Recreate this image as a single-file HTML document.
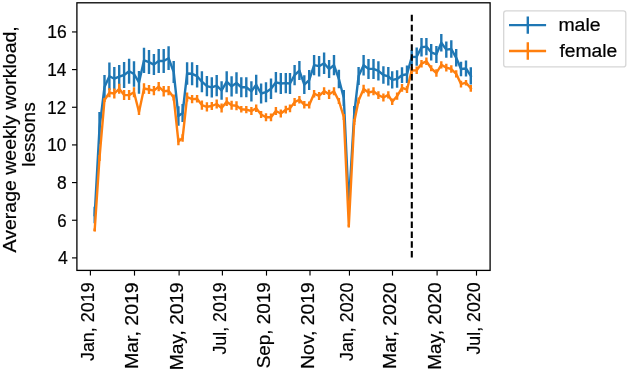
<!DOCTYPE html>
<html><head><meta charset="utf-8"><style>html,body{margin:0;padding:0;background:#fff;}svg{display:block;will-change:transform;}</style></head>
<body>
<svg width="628" height="372" viewBox="0 0 628 372">
<rect x="0" y="0" width="628" height="372" fill="#fff"/>
<path d="M94.70,206.80V223.20M99.50,112.00V144.00M104.50,75.00V99.00M109.40,62.50V89.90M114.30,67.00V90.40M119.20,65.00V88.40M124.10,62.10V87.90M129.10,58.80V83.80M134.00,61.30V86.70M139.00,71.10V93.70M144.00,47.70V72.90M149.00,50.10V74.10M153.90,54.10V75.10M158.70,48.90V72.90M163.70,49.00V73.00M168.60,46.30V70.10M173.70,61.00V83.00M178.40,106.20V125.80M182.60,104.00V122.00M187.10,62.30V84.70M192.10,62.30V85.30M197.10,65.00V87.40M201.90,71.20V92.20M206.90,76.00V96.20M211.80,77.20V97.40M216.70,75.00V96.20M221.60,81.20V99.80M226.70,71.20V92.20M231.60,76.20V96.40M236.50,72.30V93.70M241.30,77.25V97.25M246.30,77.25V97.25M251.40,81.20V101.40M256.20,74.70V94.90M261.10,83.40V103.60M266.00,82.20V102.20M271.00,78.50V98.90M275.90,72.10V92.50M280.80,72.90V94.10M285.80,72.90V93.30M290.00,72.90V94.10M294.60,65.10V85.30M299.40,61.10V80.10M304.30,75.30V94.10M309.20,70.10V90.10M314.10,54.90V75.30M319.10,56.00V76.40M324.10,52.50V73.90M329.10,60.00V78.00M334.00,55.10V75.30M338.90,69.80V88.20M343.80,90.00V106.00M348.80,199.00V211.00M354.20,106.00V122.00M358.60,67.00V85.00M363.60,55.00V75.40M368.50,58.90V78.90M373.50,58.90V78.90M378.40,61.20V80.60M383.40,66.20V83.80M388.30,67.10V85.50M392.20,71.20V88.60M397.10,70.20V87.80M402.00,67.30V83.10M407.00,65.40V83.00M411.70,50.00V64.00M416.70,47.60V65.80M421.50,37.90V56.50M426.40,37.90V55.30M431.20,44.10V60.50M436.40,45.90V62.90M441.30,34.00V51.40M446.30,41.40V57.80M451.30,40.20V57.80M456.20,49.00V66.60M461.00,61.70V76.30M466.00,60.50V76.50M470.80,67.20V84.60" stroke="#1f77b4" stroke-width="2.4" fill="none"/>
<path d="M94.70,215.00L99.50,128.00L104.50,87.00L109.40,76.20L114.30,78.70L119.20,76.70L124.10,75.00L129.10,71.30L134.00,74.00L139.00,82.40L144.00,60.30L149.00,62.10L153.90,64.60L158.70,60.90L163.70,61.00L168.60,58.20L173.70,72.00L178.40,116.00L182.60,113.00L187.10,73.50L192.10,73.80L197.10,76.20L201.90,81.70L206.90,86.10L211.80,87.30L216.70,85.60L221.60,90.50L226.70,81.70L231.60,86.30L236.50,83.00L241.30,87.25L246.30,87.25L251.40,91.30L256.20,84.80L261.10,93.50L266.00,92.20L271.00,88.70L275.90,82.30L280.80,83.50L285.80,83.10L290.00,83.50L294.60,75.20L299.40,70.60L304.30,84.70L309.20,80.10L314.10,65.10L319.10,66.20L324.10,63.20L329.10,69.00L334.00,65.20L338.90,79.00L343.80,98.00L348.80,205.00L354.20,114.00L358.60,76.00L363.60,65.20L368.50,68.90L373.50,68.90L378.40,70.90L383.40,75.00L388.30,76.30L392.20,79.90L397.10,79.00L402.00,75.20L407.00,74.20L411.70,57.00L416.70,56.70L421.50,47.20L426.40,46.60L431.20,52.30L436.40,54.40L441.30,42.70L446.30,49.60L451.30,49.00L456.20,57.80L461.00,69.00L466.00,68.50L470.80,75.90" stroke="#1f77b4" stroke-width="2.4" fill="none" stroke-linejoin="round" stroke-linecap="square"/>
<path d="M94.70,228.50V231.50M99.50,155.00V161.00M104.50,98.00V102.00M109.40,88.30V97.30M114.30,88.50V98.50M119.20,83.80V93.80M124.10,90.10V100.10M129.10,90.10V100.10M134.00,87.30V97.30M139.00,109.00V115.00M144.00,83.30V93.70M149.00,84.90V94.10M153.90,86.10V95.30M158.70,82.10V91.30M163.70,86.10V96.50M168.60,86.10V95.30M173.70,94.40V100.40M178.40,137.70V145.30M182.60,134.30V141.70M187.10,92.40V101.60M192.10,94.90V103.30M197.10,94.90V102.50M201.90,100.50V109.70M206.90,102.20V111.40M211.80,102.10V109.90M216.70,99.40V108.60M221.60,103.40V112.60M226.70,97.30V106.10M231.60,100.80V109.80M236.50,101.20V110.20M241.30,106.10V112.50M246.30,106.10V113.30M251.40,107.00V115.00M256.20,104.50V112.10M261.10,110.90V118.10M266.00,113.30V121.30M271.00,113.40V121.20M275.90,107.10V114.90M280.80,109.60V117.40M285.80,105.80V113.60M290.00,104.50V112.30M294.60,98.10V106.10M299.40,96.00V103.40M304.30,101.00V108.60M309.20,101.40V108.60M314.10,89.90V97.50M319.10,92.10V99.90M324.10,87.30V94.90M329.10,89.70V98.90M334.00,87.30V95.30M338.90,98.00V104.00M343.80,114.00V120.00M348.80,224.50V227.50M354.20,119.00V125.00M358.60,97.50V103.50M363.60,84.80V93.20M368.50,88.50V96.50M373.50,87.30V95.30M378.40,91.20V99.00M383.40,93.60V101.40M388.30,91.30V98.50M392.20,98.40V105.00M397.10,92.40V99.80M402.00,84.10V91.70M407.00,86.00V93.00M411.70,67.00V74.00M416.70,66.50V74.10M421.50,60.00V67.40M426.40,57.60V65.00M431.20,65.30V71.30M436.40,69.30V76.70M441.30,61.20V68.40M446.30,63.80V71.40M451.30,65.30V72.70M456.20,70.20V77.40M461.00,80.80V87.40M466.00,80.00V85.40M470.80,85.00V91.80" stroke="#ff7f0e" stroke-width="2.4" fill="none"/>
<path d="M94.70,230.00L99.50,158.00L104.50,100.00L109.40,92.80L114.30,93.50L119.20,88.80L124.10,95.10L129.10,95.10L134.00,92.30L139.00,112.00L144.00,88.50L149.00,89.50L153.90,90.70L158.70,86.70L163.70,91.30L168.60,90.70L173.70,97.40L178.40,141.50L182.60,138.00L187.10,97.00L192.10,99.10L197.10,98.70L201.90,105.10L206.90,106.80L211.80,106.00L216.70,104.00L221.60,108.00L226.70,101.70L231.60,105.30L236.50,105.70L241.30,109.30L246.30,109.70L251.40,111.00L256.20,108.30L261.10,114.50L266.00,117.30L271.00,117.30L275.90,111.00L280.80,113.50L285.80,109.70L290.00,108.40L294.60,102.10L299.40,99.70L304.30,104.80L309.20,105.00L314.10,93.70L319.10,96.00L324.10,91.10L329.10,94.30L334.00,91.30L338.90,101.00L343.80,117.00L348.80,226.00L354.20,122.00L358.60,100.50L363.60,89.00L368.50,92.50L373.50,91.30L378.40,95.10L383.40,97.50L388.30,94.90L392.20,101.70L397.10,96.10L402.00,87.90L407.00,89.50L411.70,70.50L416.70,70.30L421.50,63.70L426.40,61.30L431.20,68.30L436.40,73.00L441.30,64.80L446.30,67.60L451.30,69.00L456.20,73.80L461.00,84.10L466.00,82.70L470.80,88.40" stroke="#ff7f0e" stroke-width="2.4" fill="none" stroke-linejoin="round" stroke-linecap="square"/>
<path d="M411.8,257.6V14.5" stroke="#000" stroke-width="2.1" stroke-dasharray="6.5 3.345" fill="none"/>
<rect x="76.9" y="2.8" width="413.20000000000005" height="267.59999999999997" fill="none" stroke="#000" stroke-width="1.3" stroke-linejoin="miter"/>
<path d="M72.00,257.90H76.9" stroke="#000" stroke-width="1.15"/>
<text x="57.99" y="264.45" font-size="17.6" font-family="Liberation Sans, sans-serif" stroke="#000" stroke-width="0.2" fill="#000" textLength="9.82" lengthAdjust="spacingAndGlyphs">4</text>
<path d="M72.00,220.24H76.9" stroke="#000" stroke-width="1.15"/>
<text x="57.14" y="227.25" font-size="17.6" font-family="Liberation Sans, sans-serif" stroke="#000" stroke-width="0.2" fill="#000" textLength="9.40" lengthAdjust="spacingAndGlyphs">6</text>
<path d="M72.00,182.58H76.9" stroke="#000" stroke-width="1.15"/>
<text x="56.94" y="189.15" font-size="17.6" font-family="Liberation Sans, sans-serif" stroke="#000" stroke-width="0.2" fill="#000" textLength="9.72" lengthAdjust="spacingAndGlyphs">8</text>
<path d="M72.00,144.92H76.9" stroke="#000" stroke-width="1.15"/>
<text x="47.29" y="151.00" font-size="17.6" font-family="Liberation Sans, sans-serif" stroke="#000" stroke-width="0.2" fill="#000" textLength="19.19" lengthAdjust="spacingAndGlyphs">10</text>
<path d="M72.00,107.26H76.9" stroke="#000" stroke-width="1.15"/>
<text x="47.31" y="113.90" font-size="17.6" font-family="Liberation Sans, sans-serif" stroke="#000" stroke-width="0.2" fill="#000" textLength="18.84" lengthAdjust="spacingAndGlyphs">12</text>
<path d="M72.00,69.60H76.9" stroke="#000" stroke-width="1.15"/>
<text x="47.28" y="75.75" font-size="17.6" font-family="Liberation Sans, sans-serif" stroke="#000" stroke-width="0.2" fill="#000" textLength="19.22" lengthAdjust="spacingAndGlyphs">14</text>
<path d="M72.00,31.94H76.9" stroke="#000" stroke-width="1.15"/>
<text x="47.16" y="37.50" font-size="17.6" font-family="Liberation Sans, sans-serif" stroke="#000" stroke-width="0.2" fill="#000" textLength="19.51" lengthAdjust="spacingAndGlyphs">16</text>
<path d="M90.40,270.4V275.60" stroke="#000" stroke-width="1.15"/>
<text transform="translate(94.10,360.80) rotate(-90)" x="-0.28" y="0" font-size="17.6" font-family="Liberation Sans, sans-serif" stroke="#000" stroke-width="0.2" fill="#000" textLength="78.73" lengthAdjust="spacingAndGlyphs">Jan, 2019</text>
<path d="M134.50,270.4V275.60" stroke="#000" stroke-width="1.15"/>
<text transform="translate(138.20,367.40) rotate(-90)" x="-1.58" y="0" font-size="17.6" font-family="Liberation Sans, sans-serif" stroke="#000" stroke-width="0.2" fill="#000" textLength="86.69" lengthAdjust="spacingAndGlyphs">Mar, 2019</text>
<path d="M179.10,270.4V275.60" stroke="#000" stroke-width="1.15"/>
<text transform="translate(182.80,368.70) rotate(-90)" x="-1.54" y="0" font-size="17.6" font-family="Liberation Sans, sans-serif" stroke="#000" stroke-width="0.2" fill="#000" textLength="87.94" lengthAdjust="spacingAndGlyphs">May, 2019</text>
<path d="M222.40,270.4V275.60" stroke="#000" stroke-width="1.15"/>
<text transform="translate(226.10,354.30) rotate(-90)" x="-0.28" y="0" font-size="17.6" font-family="Liberation Sans, sans-serif" stroke="#000" stroke-width="0.2" fill="#000" textLength="72.22" lengthAdjust="spacingAndGlyphs">Jul, 2019</text>
<path d="M266.50,270.4V275.60" stroke="#000" stroke-width="1.15"/>
<text transform="translate(270.20,367.40) rotate(-90)" x="-0.86" y="0" font-size="17.6" font-family="Liberation Sans, sans-serif" stroke="#000" stroke-width="0.2" fill="#000" textLength="85.95" lengthAdjust="spacingAndGlyphs">Sep, 2019</text>
<path d="M310.00,270.4V275.60" stroke="#000" stroke-width="1.15"/>
<text transform="translate(313.70,367.40) rotate(-90)" x="-1.56" y="0" font-size="17.6" font-family="Liberation Sans, sans-serif" stroke="#000" stroke-width="0.2" fill="#000" textLength="86.66" lengthAdjust="spacingAndGlyphs">Nov, 2019</text>
<path d="M349.45,270.4V275.60" stroke="#000" stroke-width="1.15"/>
<text transform="translate(353.15,360.80) rotate(-90)" x="-0.28" y="0" font-size="17.6" font-family="Liberation Sans, sans-serif" stroke="#000" stroke-width="0.2" fill="#000" textLength="78.58" lengthAdjust="spacingAndGlyphs">Jan, 2020</text>
<path d="M392.50,270.4V275.60" stroke="#000" stroke-width="1.15"/>
<text transform="translate(396.20,367.40) rotate(-90)" x="-1.58" y="0" font-size="17.6" font-family="Liberation Sans, sans-serif" stroke="#000" stroke-width="0.2" fill="#000" textLength="86.53" lengthAdjust="spacingAndGlyphs">Mar, 2020</text>
<path d="M437.10,270.4V275.60" stroke="#000" stroke-width="1.15"/>
<text transform="translate(440.80,368.20) rotate(-90)" x="-1.53" y="0" font-size="17.6" font-family="Liberation Sans, sans-serif" stroke="#000" stroke-width="0.2" fill="#000" textLength="87.26" lengthAdjust="spacingAndGlyphs">May, 2020</text>
<path d="M476.50,270.4V275.60" stroke="#000" stroke-width="1.15"/>
<text transform="translate(480.20,354.30) rotate(-90)" x="-0.28" y="0" font-size="17.6" font-family="Liberation Sans, sans-serif" stroke="#000" stroke-width="0.2" fill="#000" textLength="72.07" lengthAdjust="spacingAndGlyphs">Jul, 2020</text>
<text transform="translate(16.00,252.40) rotate(-90)" x="-0.04" y="0" font-size="17.6" font-family="Liberation Sans, sans-serif" stroke="#000" stroke-width="0.2" fill="#000" textLength="226.19" lengthAdjust="spacingAndGlyphs">Average weekly workload,</text>
<text transform="translate(35.20,165.50) rotate(-90)" x="-1.28" y="0" font-size="17.6" font-family="Liberation Sans, sans-serif" stroke="#000" stroke-width="0.2" fill="#000" textLength="64.47" lengthAdjust="spacingAndGlyphs">lessons</text>
<rect x="503.7" y="10.8" width="122.1" height="56.1" rx="2.5" ry="2.5" fill="#fff" fill-opacity="0.8" stroke="#d6d6d6" stroke-width="1.3"/>
<path d="M509,25.1H546.1M527.8,16.40V33.80" stroke="#1f77b4" stroke-width="2.4" fill="none"/>
<text x="558.41" y="31.30" font-size="17.6" font-family="Liberation Sans, sans-serif" stroke="#000" stroke-width="0.2" fill="#000" textLength="42.16" lengthAdjust="spacingAndGlyphs">male</text>
<path d="M509,51.0H546.1M527.8,42.30V59.70" stroke="#ff7f0e" stroke-width="2.4" fill="none"/>
<text x="559.43" y="56.70" font-size="17.6" font-family="Liberation Sans, sans-serif" stroke="#000" stroke-width="0.2" fill="#000" textLength="57.93" lengthAdjust="spacingAndGlyphs">female</text>
</svg>
</body></html>
